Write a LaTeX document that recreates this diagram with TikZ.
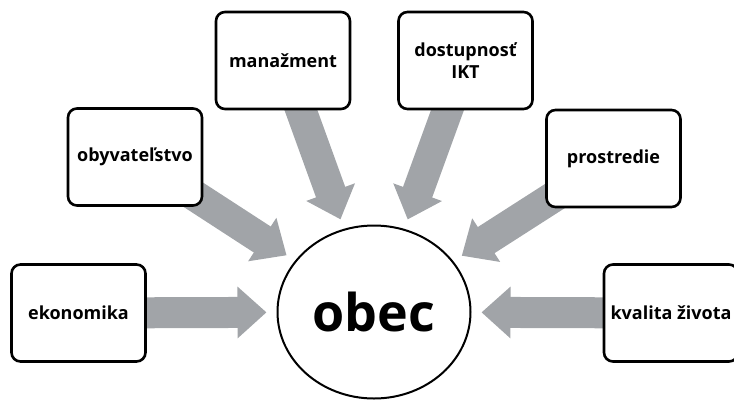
\documentclass[tikz,border=0pt]{standalone}
\usepackage{fontspec}
\setmainfont{Open Sans}
\usetikzlibrary{arrows.meta,shapes.geometric,backgrounds}
\definecolor{mygray}{RGB}{161,164,168}

\begin{document}
\begin{tikzpicture}[x=1pt,y=-1pt,
  faktor/.style={draw,line width=2.6pt,rounded corners=9pt,fill=white,minimum width=134pt,minimum height=97pt,align=center,font=\fontsize{18}{22}\selectfont\bfseries},
  stred/.style={draw,ellipse,line width=2pt,fill=white,minimum width=193pt,minimum height=173pt,font=\fontsize{52}{60}\selectfont\bfseries},
  sipka/.style={mygray,line width=31pt,-{Triangle[width=50pt,length=29pt]},shorten <=-25pt,shorten >=10pt}]
\clip (0,0) rectangle (734,400);
\node[stred] (obec) at (374,312) {obec};
\node[faktor] (ekon) at (78.5,313) {ekonomika};
\node[faktor] (obyv) at (135,157) {obyvateľstvo};
\node[faktor] (manaz) at (283,60.5) {manažment};
\node[faktor] (ikt) at (465.5,60.5) {dostupnosť\\IKT};
\node[faktor] (prost) at (613.5,158.5) {prostredie};
\node[faktor] (kval) at (671,313) {kvalita života};
\begin{scope}[on background layer]
\draw[sipka] (ekon) -- (obec);
\draw[sipka] (obyv) -- (obec);
\draw[sipka] (manaz) -- (obec);
\draw[sipka] (ikt) -- (obec);
\draw[sipka] (prost) -- (obec);
\draw[sipka] (kval) -- (obec);
\end{scope}
\end{tikzpicture}
\end{document}
